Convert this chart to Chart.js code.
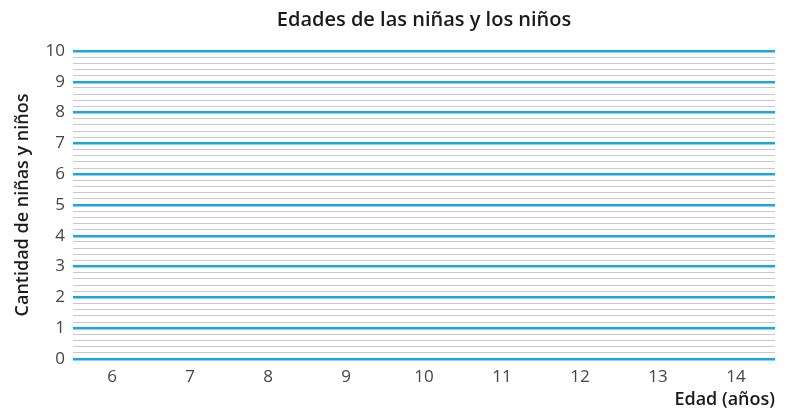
<!DOCTYPE html>
<html lang="es">
<head>
    <meta charset="UTF-8">
    <title>Edades de las niñas y los niños</title>
    <script src="https://cdn.jsdelivr.net/npm/chart.js"></script>
    <style>
        body { margin: 0; background: #ffffff; }
        #wrap { width: 793px; height: 409px; }
    </style>
</head>
<body>
    <div id="wrap"><canvas id="chart"></canvas></div>

    <script>
        // empty template graph: ages on x, counts 0-10 on y
        const edades = ['6', '7', '8', '9', '10', '11', '12', '13', '14'];
        const cantidades = [null, null, null, null, null, null, null, null, null];
        const yMin = 0;
        const yMax = 10;
        const yPaso = 0.2;

        const esEntero = v => Math.abs(v - Math.round(v)) < 1e-6;

        const ctx = document.getElementById('chart').getContext('2d');
        const chart = new Chart(ctx, {
            type: 'bar',
            data: {
                labels: edades,
                datasets: [{ label: 'Cantidad', data: cantidades, backgroundColor: '#1aa7dc' }]
            },
            options: {
                responsive: true,
                maintainAspectRatio: false,
                animation: false,
                layout: { padding: { left: 12, right: 18, top: 8, bottom: -2 } },
                plugins: {
                    legend: { display: false },
                    tooltip: { enabled: false },
                    title: {
                        display: true,
                        text: 'Edades de las niñas y los niños',
                        fullSize: false,
                        color: '#1a1a1a',
                        font: { family: 'Open Sans', size: 20, weight: '600' },
                        padding: { top: 0, bottom: 19 }
                    }
                },
                scales: {
                    x: {
                        grid: { display: false },
                        border: { display: false },
                        ticks: {
                            color: '#444',
                            font: { family: 'Open Sans', size: 17 },
                            padding: 0
                        },
                        title: {
                            display: true,
                            text: 'Edad (años)',
                            align: 'end',
                            color: '#1a1a1a',
                            font: { family: 'Open Sans', size: 18, weight: '600' },
                            padding: { top: 2, bottom: 0 }
                        }
                    },
                    y: {
                        min: yMin,
                        max: yMax,
                        border: { display: false },
                        grid: {
                            drawTicks: false,
                            color: c => esEntero(c.tick.value) ? '#1aa7dc' : '#c9c9cc',
                            lineWidth: c => esEntero(c.tick.value) ? 2.5 : 1
                        },
                        ticks: {
                            stepSize: yPaso,
                            maxTicksLimit: 100,
                            autoSkip: false,
                            padding: 8,
                            color: '#444',
                            font: { family: 'Open Sans', size: 17 },
                            callback: v => esEntero(v) ? String(Math.round(v)) : ''
                        },
                        title: {
                            display: true,
                            text: 'Cantidad de niñas y niños',
                            color: '#1a1a1a',
                            font: { family: 'Open Sans', size: 18, weight: '600' },
                            padding: { top: 0, bottom: 4 }
                        }
                    }
                }
            }
        });
    </script>
</body>
</html>
